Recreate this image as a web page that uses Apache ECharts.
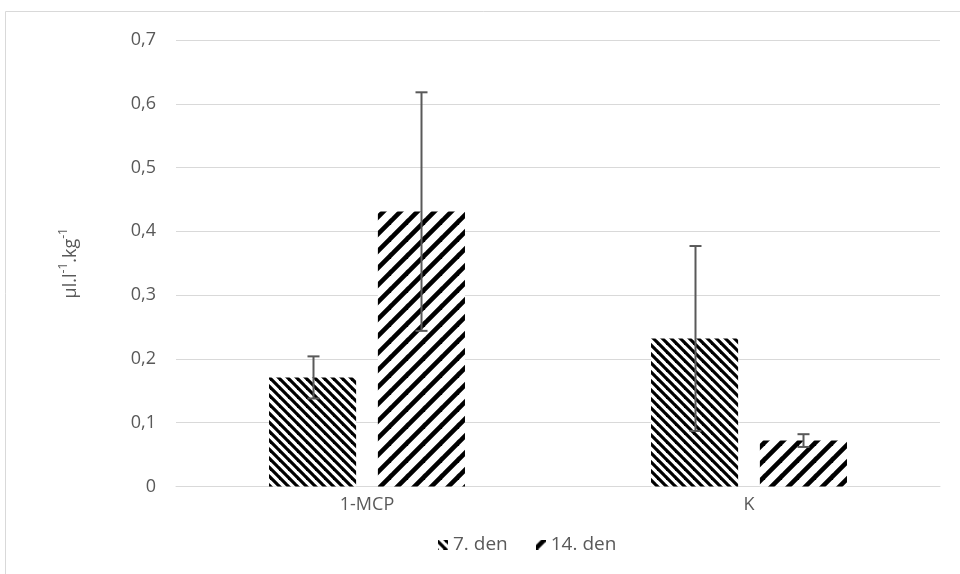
<!DOCTYPE html>
<html>
<head>
<meta charset="utf-8">
<script src="https://cdn.jsdelivr.net/npm/echarts@6/dist/echarts.min.js"></script>
<style>
  html, body { margin: 0; padding: 0; background: #fff; }
  #chart { width: 960px; height: 574px; }
</style>
</head>
<body>
<div id="chart"></div>
<script>
// Ethylene production per group and storage day
const categories = ['1-MCP', 'K'];
const seriesNames = ['7. den', '14. den'];
const day7 = [0.171, 0.232];
const day14 = [0.431, 0.072];
const day7Err = [0.033, 0.145];
const day14Err = [0.187, 0.010];
const yMin = 0, yMax = 0.7, yStep = 0.1;

const TEXT = '#595959';
const GRID = '#d9d9d9';
const FONT = 'Open Sans';
const BAR_FRAC = 0.228;   // bar width as a share of the category band
const GAP_FRAC = 0.25;    // gap between the two bars, relative to bar width

// Hatched fill tiles: dense "\" stripes and wide "/" stripes
function hatch(size, lineWidth, dir) {
  const c = document.createElement('canvas');
  c.width = size; c.height = size;
  const g = c.getContext('2d');
  g.fillStyle = '#fff';
  g.fillRect(0, 0, size, size);
  g.strokeStyle = '#000';
  g.lineWidth = lineWidth;
  g.lineCap = 'square';
  for (let k = -1; k <= 1; k++) {
    g.beginPath();
    if (dir === 'down') {
      g.moveTo(k * size, 0); g.lineTo(k * size + size, size);
    } else {
      g.moveTo(k * size, size); g.lineTo(k * size + size, 0);
    }
    g.stroke();
  }
  return c;
}
const hatchDown = hatch(9, 3.2, 'down');
const hatchUp = hatch(17, 4.6, 'up');

// Small legend swatch filled with a hatch tile
function swatch(tile, offX, offY) {
  const c = document.createElement('canvas');
  c.width = 10; c.height = 10;
  const g = c.getContext('2d');
  g.fillStyle = '#fff';
  g.fillRect(0, 0, 10, 10);
  g.translate(-offX, -offY);
  g.fillStyle = g.createPattern(tile, 'repeat');
  g.fillRect(offX, offY, 10, 10);
  return c.toDataURL();
}

function errorBars(values, errs, side) {
  return values.map((v, i) => [i, v, errs[i], side]);
}

function renderError(params, api) {
  const ci = api.value(0), v = api.value(1), e = api.value(2), side = api.value(3);
  const band = api.size([1, 0])[0];
  const barW = band * BAR_FRAC;
  const off = side * (barW + barW * GAP_FRAC) / 2;
  const hi = api.coord([ci, v + e]);
  const lo = api.coord([ci, v - e]);
  const x = Math.round(hi[0] + off) + 0.5;
  const cap = 6;
  const style = { stroke: '#595959', lineWidth: 2 };
  return {
    type: 'group',
    children: [
      { type: 'line', shape: { x1: x, y1: hi[1], x2: x, y2: lo[1] }, style },
      { type: 'line', shape: { x1: x - cap, y1: hi[1], x2: x + cap, y2: hi[1] }, style },
      { type: 'line', shape: { x1: x - cap, y1: lo[1], x2: x + cap, y2: lo[1] }, style }
    ]
  };
}

const chart = echarts.init(document.getElementById('chart'), null, { renderer: 'canvas' });

chart.setOption({
  animation: false,
  backgroundColor: '#fff',
  textStyle: { fontFamily: FONT },
  graphic: [{
    type: 'rect',
    shape: { x: 5.5, y: 11.5, width: 1000, height: 700 },
    style: { fill: 'none', stroke: GRID, lineWidth: 1 },
    silent: true, z: -10
  }],
  grid: { left: 176, right: 20, top: 40, bottom: 87.5 },
  legend: {
    data: [
      { name: seriesNames[0], icon: 'image://' + swatch(hatchDown, 2, 0) },
      { name: seriesNames[1], icon: 'image://' + swatch(hatchUp, 4, 4) }
    ],
    left: 433, top: 530,
    itemWidth: 10, itemHeight: 10, itemGap: 28,
    textStyle: { color: TEXT, fontSize: 19, fontFamily: FONT }
  },
  xAxis: {
    type: 'category',
    data: categories,
    axisLine: { lineStyle: { color: GRID, width: 1 } },
    axisTick: { show: false },
    axisLabel: { color: TEXT, fontSize: 18, fontFamily: FONT, margin: 9 }
  },
  yAxis: {
    type: 'value',
    min: yMin, max: yMax, interval: yStep,
    axisLine: { show: false },
    axisTick: { show: false },
    splitLine: { lineStyle: { color: GRID, width: 1 } },
    axisLabel: {
      color: TEXT, fontSize: 18, fontFamily: FONT, margin: 20,
      formatter: v => (Math.round(v * 10) / 10).toString().replace('.', ',')
    },
    name: '{a|µl.l}{s|-1}{a|.kg}{s|-1}',
    nameLocation: 'middle',
    nameGap: 96,
    nameRotate: 90,
    nameTextStyle: {
      rich: {
        a: { fontSize: 18, color: TEXT, fontFamily: FONT, verticalAlign: 'bottom', lineHeight: 22 },
        s: { fontSize: 12, color: TEXT, fontFamily: FONT, verticalAlign: 'top', lineHeight: 22, padding: [0, 0, 8, 0] }
      }
    }
  },
  series: [
    {
      name: seriesNames[0], type: 'bar', data: day7,
      barWidth: (BAR_FRAC * 100) + '%', barGap: (GAP_FRAC * 100) + '%',
      itemStyle: { color: { image: hatchDown, repeat: 'repeat' } }
    },
    {
      name: seriesNames[1], type: 'bar', data: day14,
      barWidth: (BAR_FRAC * 100) + '%', barGap: (GAP_FRAC * 100) + '%',
      itemStyle: { color: { image: hatchUp, repeat: 'repeat' } }
    },
    {
      name: 'err7', type: 'custom', renderItem: renderError, z: 5,
      encode: { x: 0, y: 1 }, data: errorBars(day7, day7Err, -1)
    },
    {
      name: 'err14', type: 'custom', renderItem: renderError, z: 5,
      encode: { x: 0, y: 1 }, data: errorBars(day14, day14Err, 1)
    }
  ]
});
</script>
</body>
</html>
